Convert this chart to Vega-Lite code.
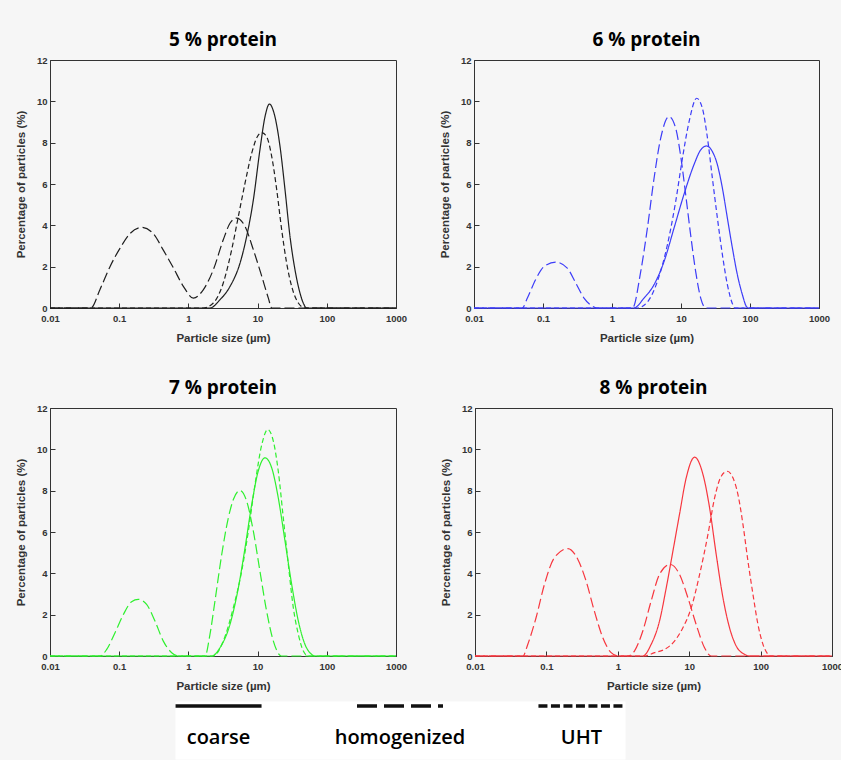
{
  "$schema": "https://vega.github.io/schema/vega-lite/v6.json",
  "padding": {"left": 14, "top": 30, "right": 0, "bottom": 0},
  "datasets": {
    "psd": [
      {"panel": "5", "sample": "coarse", "size": 0.01, "percent": 0},
      {"panel": "5", "sample": "coarse", "size": 2.05, "percent": 0},
      {"panel": "5", "sample": "coarse", "size": 2.86, "percent": 0.4},
      {"panel": "5", "sample": "coarse", "size": 3.99, "percent": 1.04},
      {"panel": "5", "sample": "coarse", "size": 5.57, "percent": 2.17},
      {"panel": "5", "sample": "coarse", "size": 6.95, "percent": 3.46},
      {"panel": "5", "sample": "coarse", "size": 8.68, "percent": 5.23},
      {"panel": "5", "sample": "coarse", "size": 10.8, "percent": 7.65},
      {"panel": "5", "sample": "coarse", "size": 12.8, "percent": 9.26},
      {"panel": "5", "sample": "coarse", "size": 14.8, "percent": 9.87},
      {"panel": "5", "sample": "coarse", "size": 17.3, "percent": 9.42},
      {"panel": "5", "sample": "coarse", "size": 21.1, "percent": 7.81},
      {"panel": "5", "sample": "coarse", "size": 24.9, "percent": 5.72},
      {"panel": "5", "sample": "coarse", "size": 29.4, "percent": 3.46},
      {"panel": "5", "sample": "coarse", "size": 34.7, "percent": 1.85},
      {"panel": "5", "sample": "coarse", "size": 41, "percent": 0.72},
      {"panel": "5", "sample": "coarse", "size": 45.7, "percent": 0.24},
      {"panel": "5", "sample": "coarse", "size": 51, "percent": 0},
      {"panel": "5", "sample": "coarse", "size": 1000, "percent": 0},

      {"panel": "5", "sample": "homogenized", "size": 0.01, "percent": 0},
      {"panel": "5", "sample": "homogenized", "size": 0.039, "percent": 0},
      {"panel": "5", "sample": "homogenized", "size": 0.0528, "percent": 0.9},
      {"panel": "5", "sample": "homogenized", "size": 0.0736, "percent": 2.0},
      {"panel": "5", "sample": "homogenized", "size": 0.103, "percent": 2.9},
      {"panel": "5", "sample": "homogenized", "size": 0.143, "percent": 3.6},
      {"panel": "5", "sample": "homogenized", "size": 0.211, "percent": 3.9},
      {"panel": "5", "sample": "homogenized", "size": 0.311, "percent": 3.6},
      {"panel": "5", "sample": "homogenized", "size": 0.434, "percent": 2.8},
      {"panel": "5", "sample": "homogenized", "size": 0.605, "percent": 1.95},
      {"panel": "5", "sample": "homogenized", "size": 0.845, "percent": 1.05},
      {"panel": "5", "sample": "homogenized", "size": 1.18, "percent": 0.48},
      {"panel": "5", "sample": "homogenized", "size": 1.64, "percent": 0.88},
      {"panel": "5", "sample": "homogenized", "size": 2.29, "percent": 1.85},
      {"panel": "5", "sample": "homogenized", "size": 3.19, "percent": 3.3},
      {"panel": "5", "sample": "homogenized", "size": 3.99, "percent": 4.1},
      {"panel": "5", "sample": "homogenized", "size": 4.98, "percent": 4.35},
      {"panel": "5", "sample": "homogenized", "size": 6.58, "percent": 3.95},
      {"panel": "5", "sample": "homogenized", "size": 8.68, "percent": 2.82},
      {"panel": "5", "sample": "homogenized", "size": 11.5, "percent": 1.53},
      {"panel": "5", "sample": "homogenized", "size": 14.3, "percent": 0.48},
      {"panel": "5", "sample": "homogenized", "size": 16, "percent": 0},
      {"panel": "5", "sample": "homogenized", "size": 1000, "percent": 0},

      {"panel": "5", "sample": "UHT", "size": 0.01, "percent": 0},
      {"panel": "5", "sample": "UHT", "size": 1.64, "percent": 0},
      {"panel": "5", "sample": "UHT", "size": 2.29, "percent": 0.24},
      {"panel": "5", "sample": "UHT", "size": 3.19, "percent": 1.21},
      {"panel": "5", "sample": "UHT", "size": 4.22, "percent": 2.82},
      {"panel": "5", "sample": "UHT", "size": 5.27, "percent": 4.43},
      {"panel": "5", "sample": "UHT", "size": 6.58, "percent": 6.04},
      {"panel": "5", "sample": "UHT", "size": 8.22, "percent": 7.49},
      {"panel": "5", "sample": "UHT", "size": 9.9, "percent": 8.29},
      {"panel": "5", "sample": "UHT", "size": 11.5, "percent": 8.49},
      {"panel": "5", "sample": "UHT", "size": 13.5, "percent": 8.29},
      {"panel": "5", "sample": "UHT", "size": 16, "percent": 7.33},
      {"panel": "5", "sample": "UHT", "size": 18.9, "percent": 5.72},
      {"panel": "5", "sample": "UHT", "size": 22.3, "percent": 3.78},
      {"panel": "5", "sample": "UHT", "size": 26.3, "percent": 2.17},
      {"panel": "5", "sample": "UHT", "size": 31.1, "percent": 1.04},
      {"panel": "5", "sample": "UHT", "size": 38.8, "percent": 0.24},
      {"panel": "5", "sample": "UHT", "size": 48.4, "percent": 0},
      {"panel": "5", "sample": "UHT", "size": 1000, "percent": 0},

      {"panel": "6", "sample": "coarse", "size": 0.01, "percent": 0},
      {"panel": "6", "sample": "coarse", "size": 2.08, "percent": 0},
      {"panel": "6", "sample": "coarse", "size": 2.91, "percent": 0.48},
      {"panel": "6", "sample": "coarse", "size": 4.07, "percent": 1.13},
      {"panel": "6", "sample": "coarse", "size": 5.68, "percent": 2.25},
      {"panel": "6", "sample": "coarse", "size": 7.93, "percent": 3.87},
      {"panel": "6", "sample": "coarse", "size": 11.0, "percent": 5.48},
      {"panel": "6", "sample": "coarse", "size": 15.4, "percent": 6.93},
      {"panel": "6", "sample": "coarse", "size": 19.3, "percent": 7.65},
      {"panel": "6", "sample": "coarse", "size": 23.5, "percent": 7.84},
      {"panel": "6", "sample": "coarse", "size": 28.5, "percent": 7.57},
      {"panel": "6", "sample": "coarse", "size": 33.7, "percent": 6.93},
      {"panel": "6", "sample": "coarse", "size": 39.8, "percent": 5.8},
      {"panel": "6", "sample": "coarse", "size": 47, "percent": 4.35},
      {"panel": "6", "sample": "coarse", "size": 55.6, "percent": 2.9},
      {"panel": "6", "sample": "coarse", "size": 65.6, "percent": 1.61},
      {"panel": "6", "sample": "coarse", "size": 77.6, "percent": 0.64},
      {"panel": "6", "sample": "coarse", "size": 89.5, "percent": 0.05},
      {"panel": "6", "sample": "coarse", "size": 95, "percent": 0},
      {"panel": "6", "sample": "coarse", "size": 1000, "percent": 0},

      {"panel": "6", "sample": "homogenized", "size": 0.01, "percent": 0},
      {"panel": "6", "sample": "homogenized", "size": 0.05, "percent": 0},
      {"panel": "6", "sample": "homogenized", "size": 0.0594, "percent": 0.48},
      {"panel": "6", "sample": "homogenized", "size": 0.078, "percent": 1.37},
      {"panel": "6", "sample": "homogenized", "size": 0.104, "percent": 2.01},
      {"panel": "6", "sample": "homogenized", "size": 0.153, "percent": 2.22},
      {"panel": "6", "sample": "homogenized", "size": 0.225, "percent": 1.93},
      {"panel": "6", "sample": "homogenized", "size": 0.298, "percent": 1.21},
      {"panel": "6", "sample": "homogenized", "size": 0.393, "percent": 0.48},
      {"panel": "6", "sample": "homogenized", "size": 0.548, "percent": 0.05},
      {"panel": "6", "sample": "homogenized", "size": 0.6, "percent": 0},
      {"panel": "6", "sample": "homogenized", "size": 1.98, "percent": 0},
      {"panel": "6", "sample": "homogenized", "size": 2.61, "percent": 1.77},
      {"panel": "6", "sample": "homogenized", "size": 3.26, "percent": 3.87},
      {"panel": "6", "sample": "homogenized", "size": 4.07, "percent": 6.28},
      {"panel": "6", "sample": "homogenized", "size": 5.08, "percent": 8.22},
      {"panel": "6", "sample": "homogenized", "size": 6.7, "percent": 9.26},
      {"panel": "6", "sample": "homogenized", "size": 8.37, "percent": 8.7},
      {"panel": "6", "sample": "homogenized", "size": 10, "percent": 7.25},
      {"panel": "6", "sample": "homogenized", "size": 11.7, "percent": 5.48},
      {"panel": "6", "sample": "homogenized", "size": 13.8, "percent": 3.54},
      {"panel": "6", "sample": "homogenized", "size": 16.3, "percent": 1.77},
      {"panel": "6", "sample": "homogenized", "size": 19.3, "percent": 0.48},
      {"panel": "6", "sample": "homogenized", "size": 22.8, "percent": 0},
      {"panel": "6", "sample": "homogenized", "size": 1000, "percent": 0},

      {"panel": "6", "sample": "UHT", "size": 0.01, "percent": 0},
      {"panel": "6", "sample": "UHT", "size": 2.33, "percent": 0},
      {"panel": "6", "sample": "UHT", "size": 3.26, "percent": 0.29},
      {"panel": "6", "sample": "UHT", "size": 4.55, "percent": 1.29},
      {"panel": "6", "sample": "UHT", "size": 6.35, "percent": 3.06},
      {"panel": "6", "sample": "UHT", "size": 8.37, "percent": 5.15},
      {"panel": "6", "sample": "UHT", "size": 10.5, "percent": 7.25},
      {"panel": "6", "sample": "UHT", "size": 13.1, "percent": 9.02},
      {"panel": "6", "sample": "UHT", "size": 16.9, "percent": 10.15},
      {"panel": "6", "sample": "UHT", "size": 20.4, "percent": 9.67},
      {"panel": "6", "sample": "UHT", "size": 24.2, "percent": 8.22},
      {"panel": "6", "sample": "UHT", "size": 28.5, "percent": 6.28},
      {"panel": "6", "sample": "UHT", "size": 33.7, "percent": 4.35},
      {"panel": "6", "sample": "UHT", "size": 39.8, "percent": 2.58},
      {"panel": "6", "sample": "UHT", "size": 47, "percent": 1.13},
      {"panel": "6", "sample": "UHT", "size": 55.6, "percent": 0.21},
      {"panel": "6", "sample": "UHT", "size": 60, "percent": 0},
      {"panel": "6", "sample": "UHT", "size": 1000, "percent": 0},

      {"panel": "7", "sample": "coarse", "size": 0.01, "percent": 0},
      {"panel": "7", "sample": "coarse", "size": 2.17, "percent": 0},
      {"panel": "7", "sample": "coarse", "size": 2.86, "percent": 0.4},
      {"panel": "7", "sample": "coarse", "size": 3.99, "percent": 1.53},
      {"panel": "7", "sample": "coarse", "size": 5.27, "percent": 3.3},
      {"panel": "7", "sample": "coarse", "size": 6.58, "percent": 5.23},
      {"panel": "7", "sample": "coarse", "size": 8.22, "percent": 7.33},
      {"panel": "7", "sample": "coarse", "size": 10.2, "percent": 8.94},
      {"panel": "7", "sample": "coarse", "size": 12.8, "percent": 9.59},
      {"panel": "7", "sample": "coarse", "size": 16, "percent": 9.1},
      {"panel": "7", "sample": "coarse", "size": 19.9, "percent": 7.65},
      {"panel": "7", "sample": "coarse", "size": 24.9, "percent": 5.56},
      {"panel": "7", "sample": "coarse", "size": 31.1, "percent": 3.46},
      {"panel": "7", "sample": "coarse", "size": 38.8, "percent": 1.69},
      {"panel": "7", "sample": "coarse", "size": 48.4, "percent": 0.56},
      {"panel": "7", "sample": "coarse", "size": 60.4, "percent": 0.08},
      {"panel": "7", "sample": "coarse", "size": 66, "percent": 0},
      {"panel": "7", "sample": "coarse", "size": 1000, "percent": 0},

      {"panel": "7", "sample": "homogenized", "size": 0.01, "percent": 0},
      {"panel": "7", "sample": "homogenized", "size": 0.053, "percent": 0},
      {"panel": "7", "sample": "homogenized", "size": 0.066, "percent": 0.32},
      {"panel": "7", "sample": "homogenized", "size": 0.087, "percent": 1.13},
      {"panel": "7", "sample": "homogenized", "size": 0.115, "percent": 2.01},
      {"panel": "7", "sample": "homogenized", "size": 0.151, "percent": 2.63},
      {"panel": "7", "sample": "homogenized", "size": 0.189, "percent": 2.74},
      {"panel": "7", "sample": "homogenized", "size": 0.249, "percent": 2.5},
      {"panel": "7", "sample": "homogenized", "size": 0.329, "percent": 1.69},
      {"panel": "7", "sample": "homogenized", "size": 0.434, "percent": 0.72},
      {"panel": "7", "sample": "homogenized", "size": 0.573, "percent": 0.16},
      {"panel": "7", "sample": "homogenized", "size": 0.716, "percent": 0},
      {"panel": "7", "sample": "homogenized", "size": 1.74, "percent": 0},
      {"panel": "7", "sample": "homogenized", "size": 2.05, "percent": 1.05},
      {"panel": "7", "sample": "homogenized", "size": 2.42, "percent": 2.66},
      {"panel": "7", "sample": "homogenized", "size": 3.03, "percent": 4.91},
      {"panel": "7", "sample": "homogenized", "size": 3.78, "percent": 6.69},
      {"panel": "7", "sample": "homogenized", "size": 4.46, "percent": 7.57},
      {"panel": "7", "sample": "homogenized", "size": 5.57, "percent": 8.01},
      {"panel": "7", "sample": "homogenized", "size": 6.95, "percent": 7.49},
      {"panel": "7", "sample": "homogenized", "size": 8.68, "percent": 6.04},
      {"panel": "7", "sample": "homogenized", "size": 10.8, "percent": 4.11},
      {"panel": "7", "sample": "homogenized", "size": 13.5, "percent": 2.17},
      {"panel": "7", "sample": "homogenized", "size": 16.9, "percent": 0.72},
      {"panel": "7", "sample": "homogenized", "size": 20.4, "percent": 0.08},
      {"panel": "7", "sample": "homogenized", "size": 22, "percent": 0},
      {"panel": "7", "sample": "homogenized", "size": 1000, "percent": 0},

      {"panel": "7", "sample": "UHT", "size": 0.01, "percent": 0},
      {"panel": "7", "sample": "UHT", "size": 2.29, "percent": 0},
      {"panel": "7", "sample": "UHT", "size": 3.19, "percent": 0.72},
      {"panel": "7", "sample": "UHT", "size": 4.46, "percent": 2.34},
      {"panel": "7", "sample": "UHT", "size": 5.89, "percent": 4.11},
      {"panel": "7", "sample": "UHT", "size": 7.35, "percent": 6.04},
      {"panel": "7", "sample": "UHT", "size": 9.17, "percent": 8.3},
      {"panel": "7", "sample": "UHT", "size": 11.5, "percent": 10.23},
      {"panel": "7", "sample": "UHT", "size": 14, "percent": 10.96},
      {"panel": "7", "sample": "UHT", "size": 16.9, "percent": 10.39},
      {"panel": "7", "sample": "UHT", "size": 19.9, "percent": 8.94},
      {"panel": "7", "sample": "UHT", "size": 23.5, "percent": 6.69},
      {"panel": "7", "sample": "UHT", "size": 27.8, "percent": 4.43},
      {"panel": "7", "sample": "UHT", "size": 32.8, "percent": 2.34},
      {"panel": "7", "sample": "UHT", "size": 38.8, "percent": 1.05},
      {"panel": "7", "sample": "UHT", "size": 45.8, "percent": 0.24},
      {"panel": "7", "sample": "UHT", "size": 54, "percent": 0},
      {"panel": "7", "sample": "UHT", "size": 1000, "percent": 0},

      {"panel": "8", "sample": "coarse", "size": 0.01, "percent": 0},
      {"panel": "8", "sample": "coarse", "size": 2.24, "percent": 0},
      {"panel": "8", "sample": "coarse", "size": 2.93, "percent": 0.56},
      {"panel": "8", "sample": "coarse", "size": 3.84, "percent": 1.69},
      {"panel": "8", "sample": "coarse", "size": 4.77, "percent": 3.3},
      {"panel": "8", "sample": "coarse", "size": 5.91, "percent": 5.07},
      {"panel": "8", "sample": "coarse", "size": 7.31, "percent": 6.85},
      {"panel": "8", "sample": "coarse", "size": 9.08, "percent": 8.62},
      {"panel": "8", "sample": "coarse", "size": 11.9, "percent": 9.62},
      {"panel": "8", "sample": "coarse", "size": 15.6, "percent": 8.78},
      {"panel": "8", "sample": "coarse", "size": 19.3, "percent": 7.17},
      {"panel": "8", "sample": "coarse", "size": 23.9, "percent": 4.91},
      {"panel": "8", "sample": "coarse", "size": 29.7, "percent": 2.82},
      {"panel": "8", "sample": "coarse", "size": 36.7, "percent": 1.37},
      {"panel": "8", "sample": "coarse", "size": 45.6, "percent": 0.48},
      {"panel": "8", "sample": "coarse", "size": 59.6, "percent": 0.08},
      {"panel": "8", "sample": "coarse", "size": 69, "percent": 0},
      {"panel": "8", "sample": "coarse", "size": 1000, "percent": 0},

      {"panel": "8", "sample": "homogenized", "size": 0.01, "percent": 0},
      {"panel": "8", "sample": "homogenized", "size": 0.047, "percent": 0},
      {"panel": "8", "sample": "homogenized", "size": 0.0548, "percent": 0.56},
      {"panel": "8", "sample": "homogenized", "size": 0.0716, "percent": 1.85},
      {"panel": "8", "sample": "homogenized", "size": 0.0938, "percent": 3.46},
      {"panel": "8", "sample": "homogenized", "size": 0.129, "percent": 4.75},
      {"panel": "8", "sample": "homogenized", "size": 0.2, "percent": 5.2},
      {"panel": "8", "sample": "homogenized", "size": 0.276, "percent": 4.67},
      {"panel": "8", "sample": "homogenized", "size": 0.36, "percent": 3.62},
      {"panel": "8", "sample": "homogenized", "size": 0.47, "percent": 2.17},
      {"panel": "8", "sample": "homogenized", "size": 0.616, "percent": 0.89},
      {"panel": "8", "sample": "homogenized", "size": 0.807, "percent": 0.16},
      {"panel": "8", "sample": "homogenized", "size": 1.0, "percent": 0},
      {"panel": "8", "sample": "homogenized", "size": 1.38, "percent": 0},
      {"panel": "8", "sample": "homogenized", "size": 1.71, "percent": 0.24},
      {"panel": "8", "sample": "homogenized", "size": 2.24, "percent": 1.21},
      {"panel": "8", "sample": "homogenized", "size": 2.93, "percent": 2.66},
      {"panel": "8", "sample": "homogenized", "size": 3.84, "percent": 3.95},
      {"panel": "8", "sample": "homogenized", "size": 5.42, "percent": 4.43},
      {"panel": "8", "sample": "homogenized", "size": 7.31, "percent": 3.95},
      {"panel": "8", "sample": "homogenized", "size": 9.59, "percent": 2.82},
      {"panel": "8", "sample": "homogenized", "size": 12.5, "percent": 1.53},
      {"panel": "8", "sample": "homogenized", "size": 16.4, "percent": 0.4},
      {"panel": "8", "sample": "homogenized", "size": 20.4, "percent": 0},
      {"panel": "8", "sample": "homogenized", "size": 1000, "percent": 0},

      {"panel": "8", "sample": "UHT", "size": 0.01, "percent": 0},
      {"panel": "8", "sample": "UHT", "size": 2.37, "percent": 0},
      {"panel": "8", "sample": "UHT", "size": 3.27, "percent": 0.16},
      {"panel": "8", "sample": "UHT", "size": 4.51, "percent": 0.32},
      {"panel": "8", "sample": "UHT", "size": 6.22, "percent": 0.72},
      {"panel": "8", "sample": "UHT", "size": 8.16, "percent": 1.37},
      {"panel": "8", "sample": "UHT", "size": 10.7, "percent": 2.34},
      {"panel": "8", "sample": "UHT", "size": 14, "percent": 3.95},
      {"panel": "8", "sample": "UHT", "size": 18.3, "percent": 5.88},
      {"panel": "8", "sample": "UHT", "size": 22.7, "percent": 7.65},
      {"panel": "8", "sample": "UHT", "size": 28.1, "percent": 8.7},
      {"panel": "8", "sample": "UHT", "size": 34.1, "percent": 8.94},
      {"panel": "8", "sample": "UHT", "size": 41, "percent": 8.62},
      {"panel": "8", "sample": "UHT", "size": 48.2, "percent": 7.81},
      {"panel": "8", "sample": "UHT", "size": 56.6, "percent": 6.37},
      {"panel": "8", "sample": "UHT", "size": 66.5, "percent": 4.59},
      {"panel": "8", "sample": "UHT", "size": 78.2, "percent": 2.98},
      {"panel": "8", "sample": "UHT", "size": 91.8, "percent": 1.53},
      {"panel": "8", "sample": "UHT", "size": 108, "percent": 0.56},
      {"panel": "8", "sample": "UHT", "size": 127, "percent": 0.08},
      {"panel": "8", "sample": "UHT", "size": 137, "percent": 0},
      {"panel": "8", "sample": "UHT", "size": 1000, "percent": 0}
    ],
    "legend": [
      {"sample": "coarse"},
      {"sample": "homogenized"},
      {"sample": "UHT"}
    ]
  },
  "resolve": {"scale": {"strokeDash": "independent"}},
  "vconcat": [
    {
      "vconcat": [
        {
          "hconcat": [
            {
              "width": 346, "height": 248,
              "title": "5 % protein",
              "data": {"name": "psd"},
              "transform": [{"filter": "datum.panel == '5'"}],
              "mark": {"type": "line", "color": "#1e1e1e", "strokeWidth": 1.2, "interpolate": "monotone"},
              "encoding": {
                "x": {"field": "size", "type": "quantitative", "scale": {"type": "log", "domain": [0.01, 1000], "nice": false}, "axis": {"title": "Particle size (µm)", "values": [0.01, 0.1, 1, 10, 100, 1000], "format": "~g"}},
                "y": {"field": "percent", "type": "quantitative", "scale": {"domain": [0, 12], "nice": false}, "axis": {"title": "Percentage of particles (%)", "values": [0, 2, 4, 6, 8, 10, 12]}},
                "strokeDash": {"field": "sample", "type": "nominal", "scale": {"domain": ["coarse", "homogenized", "UHT"], "range": [[1, 0], [10, 4], [5, 3]]}, "legend": null}
              }
            },
            {
              "width": 345, "height": 248,
              "title": "6 % protein",
              "data": {"name": "psd"},
              "transform": [{"filter": "datum.panel == '6'"}],
              "mark": {"type": "line", "color": "#3c3cf8", "strokeWidth": 1.2, "interpolate": "monotone"},
              "encoding": {
                "x": {"field": "size", "type": "quantitative", "scale": {"type": "log", "domain": [0.01, 1000], "nice": false}, "axis": {"title": "Particle size (µm)", "values": [0.01, 0.1, 1, 10, 100, 1000], "format": "~g"}},
                "y": {"field": "percent", "type": "quantitative", "scale": {"domain": [0, 12], "nice": false}, "axis": {"title": "Percentage of particles (%)", "values": [0, 2, 4, 6, 8, 10, 12]}},
                "strokeDash": {"field": "sample", "type": "nominal", "scale": {"domain": ["coarse", "homogenized", "UHT"], "range": [[1, 0], [10, 4], [5, 3]]}, "legend": null}
              }
            }
          ],
          "spacing": 30
        },
        {
          "hconcat": [
            {
              "width": 346, "height": 248,
              "title": "7 % protein",
              "data": {"name": "psd"},
              "transform": [{"filter": "datum.panel == '7'"}],
              "mark": {"type": "line", "color": "#2ef02e", "strokeWidth": 1.2, "interpolate": "monotone"},
              "encoding": {
                "x": {"field": "size", "type": "quantitative", "scale": {"type": "log", "domain": [0.01, 1000], "nice": false}, "axis": {"title": "Particle size (µm)", "values": [0.01, 0.1, 1, 10, 100, 1000], "format": "~g"}},
                "y": {"field": "percent", "type": "quantitative", "scale": {"domain": [0, 12], "nice": false}, "axis": {"title": "Percentage of particles (%)", "values": [0, 2, 4, 6, 8, 10, 12]}},
                "strokeDash": {"field": "sample", "type": "nominal", "scale": {"domain": ["coarse", "homogenized", "UHT"], "range": [[1, 0], [10, 4], [5, 3]]}, "legend": null}
              }
            },
            {
              "width": 357, "height": 248,
              "title": "8 % protein",
              "data": {"name": "psd"},
              "transform": [{"filter": "datum.panel == '8'"}],
              "mark": {"type": "line", "color": "#f7363e", "strokeWidth": 1.2, "interpolate": "monotone"},
              "encoding": {
                "x": {"field": "size", "type": "quantitative", "scale": {"type": "log", "domain": [0.01, 1000], "nice": false}, "axis": {"title": "Particle size (µm)", "values": [0.01, 0.1, 1, 10, 100, 1000], "format": "~g"}},
                "y": {"field": "percent", "type": "quantitative", "scale": {"domain": [0, 12], "nice": false}, "axis": {"title": "Percentage of particles (%)", "values": [0, 2, 4, 6, 8, 10, 12]}},
                "strokeDash": {"field": "sample", "type": "nominal", "scale": {"domain": ["coarse", "homogenized", "UHT"], "range": [[1, 0], [10, 4], [5, 3]]}, "legend": null}
              }
            }
          ],
          "spacing": 31
        }
      ],
      "spacing": 33
    },
    {
      "hconcat": [
        {
          "width": 101, "height": 58,
          "view": {"stroke": "transparent"},
          "data": {"name": "legend"},
          "mark": {"type": "text"},
          "encoding": {"text": {"value": ""}}
        },
        {
          "width": 450, "height": 58,
          "view": {"fill": "white", "stroke": "transparent"},
          "data": {"name": "legend"},
          "layer": [
            {
              "mark": {"type": "rule", "strokeWidth": 3.5, "color": "#111", "xOffset": -43, "x2Offset": 43},
              "encoding": {
                "x": {"field": "sample", "type": "nominal", "scale": {"type": "point", "domain": ["coarse", "homogenized", "UHT"], "padding": 0.24}, "axis": null},
                "x2": {"field": "sample"},
                "y": {"datum": "key", "type": "nominal", "scale": {"type": "point", "domain": ["key", "label"], "padding": 0.406, "align": 0.19}, "axis": null},
                "strokeDash": {"field": "sample", "type": "nominal", "scale": {"domain": ["coarse", "homogenized", "UHT"], "range": [[1, 0], [20, 7], [9, 3.5]]}, "legend": null}
              }
            },
            {
              "mark": {"type": "text", "font": "Open Sans", "fontSize": 20, "fontWeight": 600, "color": "#000"},
              "encoding": {
                "x": {"field": "sample", "type": "nominal", "axis": null},
                "y": {"datum": "label", "type": "nominal", "axis": null},
                "text": {"field": "sample"}
              }
            }
          ]
        }
      ],
      "spacing": 21
    }
  ],
  "spacing": 7,
  "config": {
    "background": "#f6f6f6",
    "view": {"stroke": "#333", "strokeWidth": 1},
    "axis": {
      "grid": false,
      "domainColor": "#333",
      "tickColor": "#333",
      "tickSize": -5,
      "labelFlush": false,
      "labelFont": "Liberation Sans",
      "labelFontSize": 9.5,
      "labelFontWeight": "bold",
      "labelColor": "#333",
      "titleFont": "Liberation Sans",
      "titleFontSize": 11.5,
      "titleFontWeight": "bold",
      "titleColor": "#333"
    },
    "axisX": {"labelPadding": 10, "titlePadding": 10},
    "axisY": {"labelPadding": 8, "titlePadding": 10},
    "title": {"font": "Open Sans", "fontSize": 19, "fontWeight": "bold", "color": "#000", "offset": 5}
  }
}
